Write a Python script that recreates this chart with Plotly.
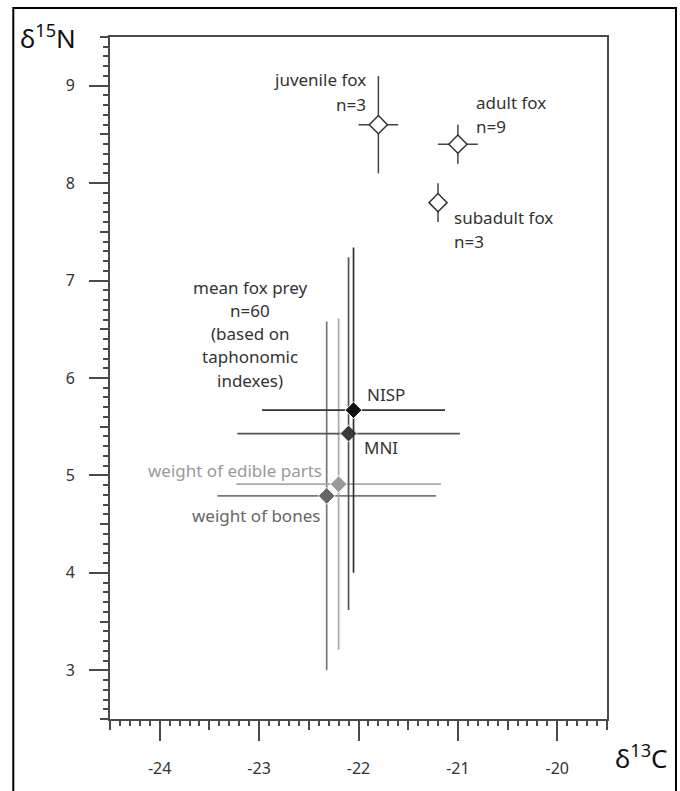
import plotly.graph_objects as go

# ---------------- data ----------------
fox_labels = ["juvenile fox", "adult fox", "subadult fox"]
fox_d13c = [-21.8, -21.0, -21.2]
fox_d15n = [8.6, 8.4, 7.8]
fox_sd_c = [0.2, 0.2, 0.0]
fox_sd_n = [0.5, 0.2, 0.2]

prey_labels = ["weight of bones", "weight of edible parts", "MNI", "NISP"]
prey_d13c = [-22.32, -22.20, -22.10, -22.05]
prey_d15n = [4.79, 4.91, 5.43, 5.67]
prey_sd_c = [1.10, 1.03, 1.12, 0.92]
prey_sd_n = [1.79, 1.70, 1.81, 1.67]
prey_marker_colors = ["#666666", "#9a9a9a", "#3a3a3a", "#111111"]
prey_line_colors = ["#777777", "#aaaaaa", "#555555", "#333333"]

x_ticks = [-24, -23, -22, -21, -20]
x_tick_labels = ["-24", "-23", "-22", "-21", "-20"]
y_ticks = [3, 4, 5, 6, 7, 8, 9]
x_mid_ticks = [-24.5, -24, -23.5, -23, -22.5, -22, -21.5, -21, -20.5, -20, -19.5]
y_mid_ticks = [2.5, 3, 3.5, 4, 4.5, 5, 5.5, 6, 6.5, 7, 7.5, 8, 8.5, 9, 9.5]
x_range = [-24.5, -19.5]
y_range = [2.5, 9.5]

FONT = "Noto Sans"
TXT = "#333333"
AX = "#4a4a4a"

fig = go.Figure()

# prey (mean fox prey by taphonomic index)
for lab, x, y, sx, sy, mc, lc in zip(prey_labels, prey_d13c, prey_d15n, prey_sd_c,
                                      prey_sd_n, prey_marker_colors, prey_line_colors):
    fig.add_trace(go.Scatter(
        x=[x], y=[y], mode="markers", name=lab,
        marker=dict(symbol="diamond", size=13, color=mc, line=dict(color="white", width=1)),
        error_x=dict(type="data", array=[sx], color=lc, thickness=1.7, width=0),
        error_y=dict(type="data", array=[sy], color=lc, thickness=1.7, width=0),
    ))

# foxes
fig.add_trace(go.Scatter(
    x=fox_d13c, y=fox_d15n, mode="markers", name="fox",
    marker=dict(symbol="diamond", size=14, color="white", line=dict(color="#333333", width=1.5)),
    error_x=dict(type="data", array=fox_sd_c, color="#444444", thickness=1.5, width=0),
    error_y=dict(type="data", array=fox_sd_n, color="#444444", thickness=1.5, width=0),
))

# invisible helper traces for the medium-length ticks
fig.add_trace(go.Scatter(x=[None], y=[None], xaxis="x2", yaxis="y", showlegend=False, hoverinfo="skip"))
fig.add_trace(go.Scatter(x=[None], y=[None], xaxis="x", yaxis="y2", showlegend=False, hoverinfo="skip"))

# ---------------- annotations ----------------
def ann(x, y, text, xanchor="left", color=TXT, size=17):
    fig.add_annotation(x=x, y=y, xref="x", yref="y", text=text, showarrow=False,
                       xanchor=xanchor, yanchor="middle",
                       font=dict(family=FONT, size=size, color=color))

ann(-21.90, 9.064, "juvenile fox", "right")
ann(-21.90, 8.812, "n=3", "right")
ann(-20.84, 8.832, "adult fox")
ann(-20.84, 8.581, "n=9")
ann(-21.06, 7.644, "subadult fox")
ann(-21.06, 7.402, "n=3")
prey_block = ["mean fox prey", "n=60", "(based on", "taphonomic", "indexes)"]
prey_block_y = [6.932, 6.697, 6.456, 6.217, 5.975]
for t, yy in zip(prey_block, prey_block_y):
    ann(-23.09, yy, t, "center")
ann(-21.93, 5.834, "NISP")
ann(-21.96, 5.287, "MNI")
ann(-22.35, 5.046, "weight of edible parts", "right", color="#9a9a9a")
ann(-22.37, 4.593, "weight of bones", "right", color="#666666")

# axis titles
fig.add_annotation(x=-0.125, y=1.0, xref="paper", yref="paper", showarrow=False,
                   text="δ<sup>15</sup>N", xanchor="center", yanchor="middle",
                   font=dict(family=FONT, size=26, color="#111111"))
fig.add_annotation(x=1.07, y=-0.055, xref="paper", yref="paper", showarrow=False,
                   text="δ<sup>13</sup>C", xanchor="center", yanchor="middle",
                   font=dict(family=FONT, size=26, color="#111111"))

# outer frame
fig.add_shape(type="rect", xref="paper", yref="paper",
              x0=-0.1946, x1=1.1388, y0=-0.12, y1=1.0427,
              line=dict(color="black", width=2), fillcolor="rgba(0,0,0,0)", layer="below")

axis_common = dict(showgrid=False, zeroline=False, showline=True, linecolor=AX,
                   linewidth=2, mirror=True, ticks="outside", tickcolor=AX,
                   tickwidth=1.5, tickfont=dict(family=FONT, size=16, color=TXT))

fig.update_layout(
    width=680, height=791,
    margin=dict(l=110, r=73, t=37, b=59),
    paper_bgcolor="white", plot_bgcolor="white",
    showlegend=False,
    xaxis=dict(range=x_range, tickvals=x_ticks, ticktext=x_tick_labels, ticklen=20, ticklabelstandoff=14,
               minor=dict(dtick=0.1, tick0=-24.5, ticklen=5, tickcolor=AX, tickwidth=1.5, ticks="outside"),
               **axis_common),
    yaxis=dict(range=y_range, tickvals=y_ticks, ticklen=19, ticklabelstandoff=11,
               minor=dict(dtick=0.1, tick0=2.5, ticklen=5, tickcolor=AX, tickwidth=1.5, ticks="outside"),
               **axis_common),
    xaxis2=dict(range=x_range, overlaying="x", anchor="y", side="bottom", tickvals=x_mid_ticks,
                ticks="outside", ticklen=10, tickwidth=1.5, tickcolor=AX,
                showticklabels=False, showgrid=False, zeroline=False, showline=False),
    yaxis2=dict(range=y_range, overlaying="y", anchor="x", side="left", tickvals=y_mid_ticks,
                ticks="outside", ticklen=9, tickwidth=1.5, tickcolor=AX,
                showticklabels=False, showgrid=False, zeroline=False, showline=False),
)

fig.write_html("out.html", config={"displayModeBar": False},
               post_script="document.body.style.margin='0';document.body.style.overflow='hidden';")
